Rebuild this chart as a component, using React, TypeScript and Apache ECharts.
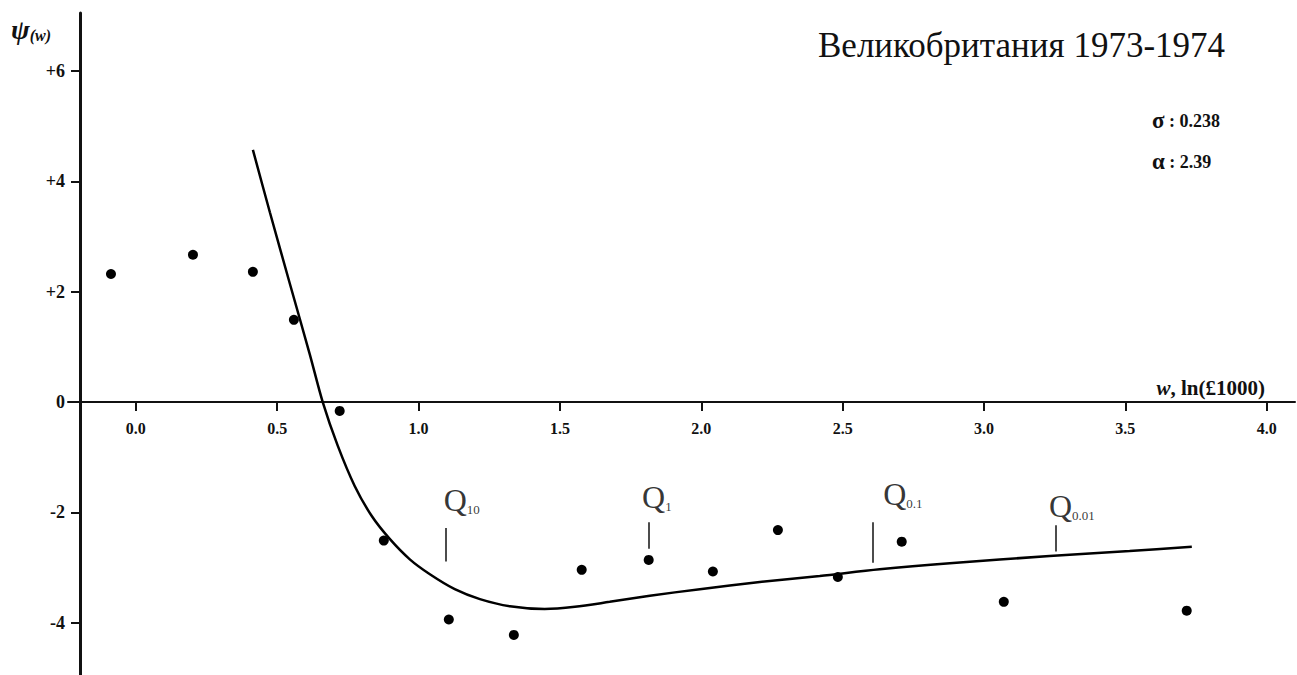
import React, { useEffect, useRef } from 'react';
import * as echarts from 'echarts';

// Observed data points (w, psi)
const pointsX = [-0.088, 0.202, 0.414, 0.559, 0.721, 0.877, 1.107, 1.337, 1.577, 1.814, 2.041, 2.271, 2.483, 2.709, 3.07, 3.717];
const pointsY = [2.32, 2.67, 2.36, 1.49, -0.16, -2.51, -3.94, -4.22, -3.04, -2.86, -3.07, -2.32, -3.17, -2.53, -3.62, -3.78];

// Fitted curve
const curveX = [0.414, 0.474, 0.545, 0.615, 0.661, 0.714, 0.774, 0.835, 0.898, 0.969, 1.04, 1.128, 1.217, 1.323, 1.446, 1.553, 1.676, 1.818, 1.995, 2.207, 2.419, 2.631, 2.879, 3.232, 3.515, 3.735];
const curveY = [4.57, 3.44, 2.14, 0.87, 0.0, -0.79, -1.52, -2.07, -2.48, -2.85, -3.12, -3.39, -3.57, -3.7, -3.75, -3.71, -3.62, -3.51, -3.39, -3.26, -3.15, -3.03, -2.92, -2.79, -2.7, -2.62];

// Quantile markers
const qSubs = ['10', '1', '0.1', '0.01'];
const qX = [1.096, 1.814, 2.607, 3.254];
const qTop = [-2.28, -2.18, -2.18, -2.23];
const qBottom = [-2.89, -2.66, -2.91, -2.71];
const qLabelX = [1.153, 1.843, 2.713, 3.311];
const qLabelY = [-1.77, -1.72, -1.66, -1.88];

// Axis ticks
const xTicks = [0, 0.5, 1, 1.5, 2, 2.5, 3, 3.5, 4];
const yTicks = [-4, -2, 0, 2, 4, 6];

const titleText = 'Великобритания 1973-1974';
const sigmaText = '0.238';
const alphaText = '2.39';

const serif = "'Liberation Serif', 'Times New Roman', serif";

export default function App() {
  const ref = useRef<HTMLDivElement>(null);
  useEffect(() => {
    const chart = echarts.init(ref.current!, null, { renderer: 'svg' });
    const option: any = {
      animation: false,
      backgroundColor: '#fff',
      title: {
        text: titleText,
        left: 818,
        top: 28,
        padding: 0,
        textStyle: { fontFamily: serif, fontSize: 35, fontWeight: 'normal', color: '#111' },
      },
      grid: { left: 68, top: 13, width: 1227, height: 665, outerBoundsMode: 'none', containLabel: false },
      xAxis: {
        type: 'value',
        min: -0.24,
        max: 4.1,
        offset: -276,
        name: '{i|w}{n|, ln(£1000)}',
        nameLocation: 'end',
        nameGap: -30,
        nameTextStyle: {
          align: 'right',
          verticalAlign: 'bottom',
          padding: [0, 0, 4, 0],
          rich: {
            i: { fontFamily: serif, fontSize: 21, fontWeight: 'bold', fontStyle: 'italic', color: '#111' },
            n: { fontFamily: serif, fontSize: 21, fontWeight: 'bold', color: '#111' },
          },
        },
        axisLine: { onZero: false, lineStyle: { color: '#111', width: 2 } },
        axisTick: { show: true, length: 9, lineStyle: { color: '#111', width: 2 }, customValues: xTicks },
        axisLabel: {
          customValues: xTicks,
          margin: 18,
          fontFamily: serif,
          fontSize: 16,
          fontWeight: 'bold',
          color: '#111',
          formatter: (v: number) => v.toFixed(1),
        },
        splitLine: { show: false },
      },
      yAxis: {
        type: 'value',
        min: -5,
        max: 7.05,
        offset: -12,
        axisLine: { show: true, onZero: false, lineStyle: { color: '#111', width: 3 } },
        axisTick: { show: true, length: 9, lineStyle: { color: '#111', width: 2 }, customValues: yTicks },
        axisLabel: {
          customValues: yTicks,
          margin: 15,
          fontFamily: serif,
          fontSize: 18,
          fontWeight: 'bold',
          color: '#111',
          formatter: (v: number) => (v > 0 ? '+' + v : String(v)),
        },
        splitLine: { show: false },
      },
      graphic: [
        {
          type: 'text',
          left: 11,
          top: 15,
          style: {
            text: '{p|ψ}{w|(w)}',
            rich: {
              p: { fontFamily: serif, fontSize: 28, fontWeight: 'bold', fontStyle: 'italic', fill: '#111' },
              w: { fontFamily: serif, fontSize: 16, fontWeight: 'bold', fontStyle: 'italic', fill: '#111', verticalAlign: 'bottom' },
            },
          },
        },
        {
          type: 'text',
          left: 1152,
          top: 109,
          style: {
            text: '{g|σ}{t| : ' + sigmaText + '}',
            rich: {
              g: { fontFamily: serif, fontSize: 23, fontWeight: 'bold', fill: '#111' },
              t: { fontFamily: serif, fontSize: 18, fontWeight: 'bold', fill: '#111' },
            },
          },
        },
        {
          type: 'text',
          left: 1152,
          top: 150,
          style: {
            text: '{g|α}{t| : ' + alphaText + '}',
            rich: {
              g: { fontFamily: serif, fontSize: 23, fontWeight: 'bold', fill: '#111' },
              t: { fontFamily: serif, fontSize: 18, fontWeight: 'bold', fill: '#111' },
            },
          },
        },
      ],
      series: [
        {
          name: 'curve',
          type: 'line',
          data: curveX.map((x, i) => [x, curveY[i]]),
          smooth: 0.3,
          symbol: 'none',
          lineStyle: { color: '#000', width: 2.5 },
          silent: true,
          z: 3,
        },
        {
          name: 'points',
          type: 'scatter',
          data: pointsX.map((x, i) => [x, pointsY[i]]),
          symbol: 'circle',
          symbolSize: 10,
          itemStyle: { color: '#000', opacity: 1 },
          z: 4,
        },
        {
          name: 'qTicks',
          type: 'lines',
          coordinateSystem: 'cartesian2d',
          polyline: false,
          data: qX.map((x, i) => ({ coords: [[x, qTop[i]], [x, qBottom[i]]] })),
          lineStyle: { color: '#111', width: 1.5, opacity: 1, curveness: 0 },
          silent: true,
        },
        {
          name: 'qLabels',
          type: 'scatter',
          data: qLabelX.map((x, i) => [x, qLabelY[i]]),
          symbolSize: 0,
          silent: true,
          itemStyle: { color: '#000' },
          label: {
            show: true,
            position: 'inside',
            color: '#000',
            textBorderWidth: 0,
            formatter: (p: any) => '{q|Q}{s|' + qSubs[p.dataIndex] + '}',
            rich: {
              q: { fontFamily: serif, fontSize: 32, color: '#000', textBorderWidth: 0, verticalAlign: 'bottom' },
              s: { fontFamily: serif, fontSize: 13, color: '#000', textBorderWidth: 0, verticalAlign: 'bottom' },
            },
          },
        },
      ],
    };
    chart.setOption(option);
    return () => chart.dispose();
  }, []);
  return (
    <div
      ref={ref}
      style={{ position: 'absolute', left: 0, top: 0, width: 1297, height: 675, background: '#fff' }}
    />
  );
}
